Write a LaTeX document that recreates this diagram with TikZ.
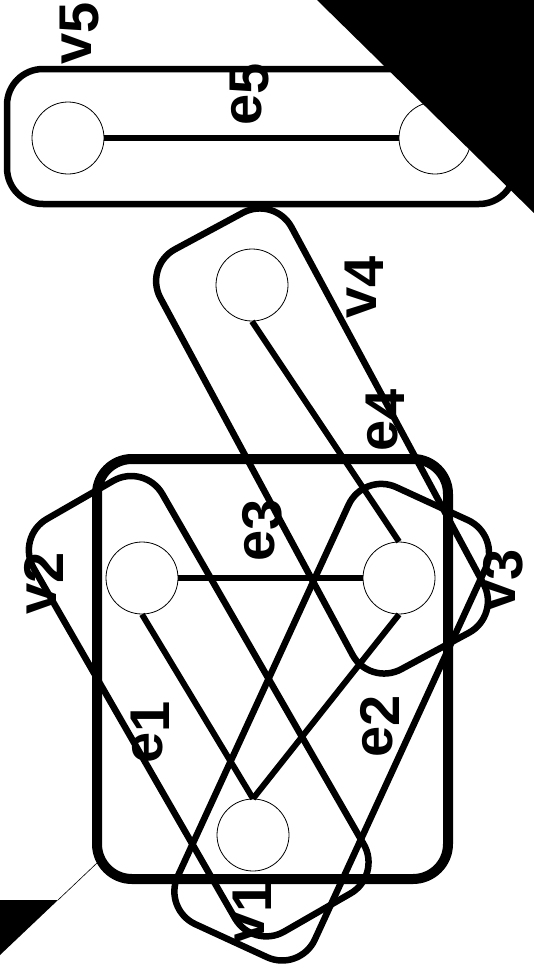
\documentclass[tikz,border=0pt]{standalone}
\usepackage{fontspec}
\setmainfont{Liberation Sans}
\newcommand\lbl[2]{#1\raisebox{-7pt}{#2}}
\begin{document}
\begin{tikzpicture}[x=1pt,y=-1pt,
  vert/.style={circle,draw,line width=0.8pt,fill=white,minimum size=72pt,inner sep=0pt},
  edge/.style={line width=6pt},
  hyper/.style={draw,line width=6.5pt,rounded corners=36pt,inner sep=0pt},
  lab/.style={font=\fontsize{56}{60}\selectfont\bfseries,rotate=90,inner sep=0pt}]
\useasboundingbox (0,0) rectangle (534,972);
% hyperedges
\node[hyper,minimum width=508pt,minimum height=135pt] (h5) at (261,136.5) {};
\node[hyper,minimum width=477pt,minimum height=149pt,rotate=-61.7] (h4) at (322,441) {};
\node[hyper,minimum width=476pt,minimum height=148.5pt,rotate=-60.1] (h1) at (198.7,706.2) {};
\node[hyper,minimum width=481pt,minimum height=151pt,rotate=65.3] (h2) at (331.7,722.2) {};
\node[hyper,line width=10pt,rounded corners=35pt,minimum width=351pt,minimum height=420pt] (h3) at (272.5,669) {};
% vertices
\node[vert] (v5a) at (68,138) {};
\node[vert] (v5b) at (435,138) {};
\node[vert] (v4) at (252,285) {};
\node[vert] (v2) at (142,578) {};
\node[vert] (v3) at (399,578) {};
\node[vert] (v1) at (253,835) {};
% edges
\draw[edge] (v5a) -- (v5b);
\draw[edge] (v2) -- (v3);
\draw[edge] (v4.south) -- (v3.north);
\draw[edge] (v2.south) -- (v1.north);
\draw[edge] (v3.south) -- (v1.north);
% labels
\node[lab] (lv5) at (80,33) {\lbl{v}{5}};
\node[lab] (le5) at (250,94) {\lbl{e}{5}};
\node[lab] (lv4) at (364,287) {\lbl{v}{4}};
\node[lab] (le4) at (385,420) {\lbl{e}{4}};
\node[lab] (le3) at (262,530) {\lbl{e}{3}};
\node[lab] (lv2) at (44,583) {\lbl{v}{2}};
\node[lab] (lv3) at (503,580) {\lbl{v}{3}};
\node[lab] (le1) at (150,732) {\lbl{e}{1}};
\node[lab] (le2) at (380,726) {\lbl{e}{2}};
\node[lab] (lv1) at (252,912) {\lbl{v}{1}};
% corner triangles
\fill (317,0) -- (534,0) -- (534,213) -- cycle;
\fill (0,900) -- (58,900) -- (0,955) -- cycle;
\draw[line width=0.6pt] (58,900) -- (97,863);
\end{tikzpicture}
\end{document}
